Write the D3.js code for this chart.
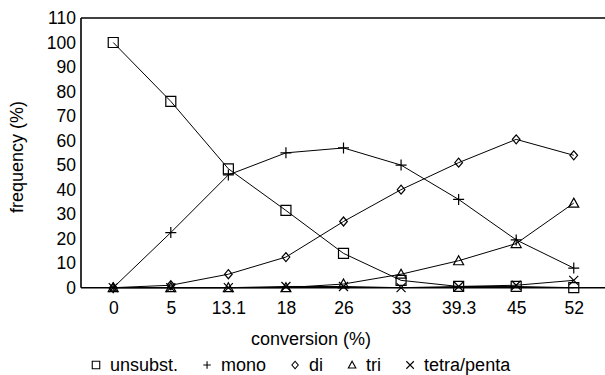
<!DOCTYPE html>
<html>
<head>
<meta charset="utf-8">
<script src="https://cdn.jsdelivr.net/npm/d3@7"></script>
<style>
  html, body { margin: 0; padding: 0; background: #fff; }
  svg { display: block; }
  text { font-family: "Liberation Sans", Arial, Helvetica, sans-serif; fill: #000; }
</style>
</head>
<body>
<svg id="chart" width="605" height="375"></svg>
<script>
// ---- data ----
const categories = ["0", "5", "13.1", "18", "26", "33", "39.3", "45", "52"];
const unsubst = [100, 76, 48.5, 31.5, 14, 3, 0.5, 0.5, 0];
const mono    = [0, 22.5, 46, 55, 57, 50, 36, 19.5, 8];
const di      = [0, 1, 5.5, 12.5, 27, 40, 51, 60.5, 54];
const tri     = [0, 0, 0, 0, 1.5, 5.5, 11, 18, 34.5];
const tetra   = [0, 0, 0, 0.5, 0.5, 0, 0.5, 1, 3];
const yTicks  = [0, 10, 20, 30, 40, 50, 60, 70, 80, 90, 100, 110];
const seriesNames = ["unsubst.", "mono", "di", "tri", "tetra/penta"];

const series = [
  { name: seriesNames[0], values: unsubst, marker: "square" },
  { name: seriesNames[1], values: mono,    marker: "plus" },
  { name: seriesNames[2], values: di,      marker: "diamond" },
  { name: seriesNames[3], values: tri,     marker: "triangle" },
  { name: seriesNames[4], values: tetra,   marker: "cross" }
];

// ---- layout ----
const W = 605, H = 375;
const plot = { left: 81, right: 606, top: 18, bottom: 287.7 };

const svg = d3.select("#chart");

const x = d3.scalePoint().domain(categories).range([plot.left, plot.right]).padding(0.56);
const y = d3.scaleLinear().domain([0, 110]).range([plot.bottom, plot.top]);

// marker path generators (centered at 0,0)
function markerPath(type, s) {
  const h = s / 2;
  switch (type) {
    case "square":   return `M${-h},${-h}H${h}V${h}H${-h}Z`;
    case "plus":     return `M${-h},0H${h}M0,${-h}V${h}`;
    case "diamond":  return `M0,${-h}L${h * 0.85},0L0,${h}L${-h * 0.85},0Z`;
    case "triangle": return `M0,${-h}L${h},${h * 0.8}L${-h},${h * 0.8}Z`;
    case "cross":    return `M${-h},${-h}L${h},${h}M${h},${-h}L${-h},${h}`;
  }
}
const markerSize = { square: 10, plus: 11, diamond: 9, triangle: 10, cross: 9 };

// frame: top border
svg.append("line")
  .attr("x1", plot.left).attr("x2", plot.right)
  .attr("y1", plot.top).attr("y2", plot.top)
  .attr("stroke", "#000").attr("stroke-width", 1.5);

// axes
const yAxis = svg.append("g")
  .attr("transform", `translate(${plot.left},0)`)
  .call(d3.axisLeft(y).tickValues(yTicks).tickSize(0).tickPadding(5).tickFormat(d3.format("d")));
yAxis.select(".domain").attr("stroke", "#000").attr("stroke-width", 1.6)
  .attr("d", `M0,${plot.bottom}V${plot.top}`);
yAxis.selectAll("text").style("font-size", "17.5px")
  .style("font-family", '"Liberation Sans", Arial, sans-serif').attr("fill", "#000");

const xAxis = svg.append("g")
  .attr("transform", `translate(0,${plot.bottom})`)
  .call(d3.axisBottom(x).tickSize(0).tickPadding(14));
xAxis.select(".domain").attr("stroke", "#000").attr("stroke-width", 1.6)
  .attr("d", `M${plot.left},0H${plot.right}`);
xAxis.selectAll("text").style("font-size", "17.5px")
  .style("font-family", '"Liberation Sans", Arial, sans-serif').attr("fill", "#000");

// lines and markers
const line = d3.line().x((d, i) => x(categories[i])).y(d => y(d));
series.forEach(s => {
  svg.append("path")
    .datum(s.values)
    .attr("d", line)
    .attr("fill", "none")
    .attr("stroke", "#000")
    .attr("stroke-width", 1);
  svg.append("g").selectAll("path")
    .data(s.values)
    .join("path")
    .attr("transform", (d, i) => `translate(${x(categories[i])},${y(d)})`)
    .attr("d", markerPath(s.marker, markerSize[s.marker]))
    .attr("fill", "none")
    .attr("stroke", "#000")
    .attr("stroke-width", 1.2);
});

// axis titles
svg.append("text")
  .attr("x", 311).attr("y", 345)
  .attr("text-anchor", "middle")
  .style("font-size", "18px")
  .text("conversion (%)");

svg.append("text")
  .attr("transform", `translate(23,157) rotate(-90)`)
  .attr("text-anchor", "middle")
  .style("font-size", "18px")
  .text("frequency (%)");

// legend
const legend = svg.append("g").attr("transform", "translate(0,371)");
let lx = 96;
series.forEach((s, i) => {
  const g = legend.append("g");
  g.append("path")
    .attr("transform", `translate(${lx},-6)`)
    .attr("d", markerPath(s.marker, 7.5))
    .attr("fill", "none").attr("stroke", "#000").attr("stroke-width", 1.1);
  const t = g.append("text")
    .attr("x", lx + 14).attr("y", 0)
    .style("font-size", "18px")
    .text(s.name);
  const w = t.node().getComputedTextLength();
  lx = lx + 14 + w + 29;
});
</script>
</body>
</html>
